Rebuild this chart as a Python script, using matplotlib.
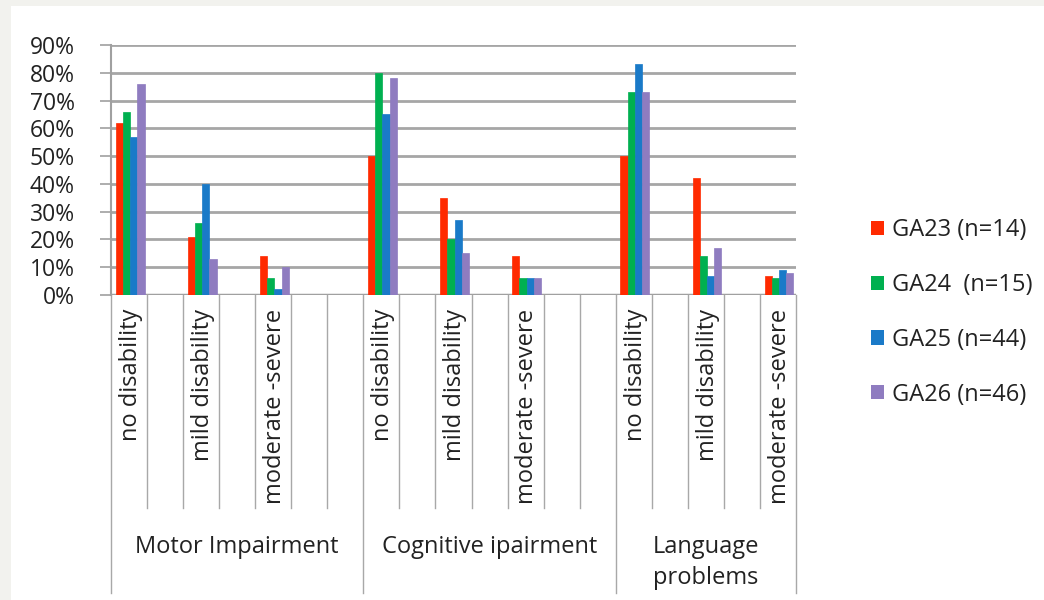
import matplotlib
matplotlib.use("Agg")
import matplotlib.pyplot as plt
from matplotlib.patches import Patch, Rectangle
import numpy as np

# ---- data ----
slot_labels = ["no disability", "", "mild disability", "", "moderate -severe", "", "",
               "no disability", "", "mild disability", "", "moderate -severe", "", "",
               "no disability", "", "mild disability", "", "moderate -severe"]
groups = ["Motor Impairment", "Cognitive ipairment", "Language\nproblems"]
group_sizes = [7, 7, 5]
series_names = ["GA23 (n=14)", "GA24  (n=15)", "GA25 (n=44)", "GA26 (n=46)"]
ga23 = [62, 21, 14, 50, 35, 14, 50, 42, 7]
ga24 = [66, 26, 6, 80, 20, 6, 73, 14, 6]
ga25 = [57, 40, 2, 65, 27, 6, 83, 7, 9]
ga26 = [76, 13, 10, 78, 15, 6, 73, 17, 8]
yticks = [0, 10, 20, 30, 40, 50, 60, 70, 80, 90]

colors = ["#ff2a00", "#00b050", "#1a7ac8", "#8f7cc0"]
FONT = "Open Sans"
FS = 17

W, H = 1044, 600
fig = plt.figure(figsize=(W / 100, H / 100), dpi=100)
fig.patch.set_facecolor("#f2f2ee")
bg = Rectangle((11 / W, 0), 1 - 11 / W, 1 - 6 / H, transform=fig.transFigure,
               facecolor="white", edgecolor="none", zorder=-10)
fig.patches.append(bg)

ax_l, ax_r = 111 / W, 796 / W
ax_b, ax_t = 1 - 295 / H, 1 - 45 / H
ax = fig.add_axes([ax_l, ax_b, ax_r - ax_l, ax_t - ax_b])
ax.set_facecolor("none")
ax.set_zorder(5)

n = len(slot_labels)
used = [i for i, s in enumerate(slot_labels) if s]
x = np.array(used, dtype=float)
bw = 0.2
for k, (vals, c) in enumerate(zip([ga23, ga24, ga25, ga26], colors)):
    ax.bar(x + (k - 1.5) * bw + 0.03, np.array(vals) / 100, width=bw, color=c,
           edgecolor=c, linewidth=0.5, zorder=3)

ax.set_xlim(-0.5, n - 0.5)
ax.set_ylim(0, 0.9)
ax.set_yticks([v / 100 for v in yticks])
ax.set_yticklabels([f"{v}%" for v in yticks], fontfamily=FONT, fontsize=FS - 0.5, color="#222222")
ax.tick_params(axis="y", length=8, width=1.2, color="#a0a0a0", pad=18)
ax.set_xticks([])
ax.grid(axis="y", color="#a6a6a6", linewidth=2, zorder=1)
for side in ["top", "right", "bottom"]:
    ax.spines[side].set_visible(False)
ax.spines["left"].set_color("#a0a0a0")
ax.spines["left"].set_linewidth(1.5)
ax.axhline(0, color="#a0a0a0", linewidth=2.5, zorder=2)

trans = ax.get_xaxis_transform()
axh = (295 - 45)
short_y = -(508 - 295) / axh
long_y = -(593 - 295) / axh
bounds = np.cumsum([0] + group_sizes) - 0.5
for b in np.arange(-0.5, n, 1.0):
    y0 = long_y if np.any(np.isclose(bounds, b)) else short_y
    ax.plot([b, b], [0, y0], transform=trans, color="#a8a8a8", linewidth=1, clip_on=False)

label_top = -(309 - 295) / axh
for i, s in enumerate(slot_labels):
    if s:
        ax.text(i + 0.05, label_top, s, transform=trans, rotation=90, ha="center", va="top",
                fontfamily=FONT, fontsize=FS, color="#222222")

group_y = -(535 - 295) / axh
for g, (lo, hi) in zip(groups, zip(bounds[:-1], bounds[1:])):
    ax.text((lo + hi) / 2, group_y, g, transform=trans, ha="center", va="top",
            fontfamily=FONT, fontsize=FS, color="#222222", linespacing=1.4)

handles = [Patch(facecolor=c, edgecolor="none") for c in colors]
leg = fig.legend(handles, series_names, loc="upper left",
                 bbox_to_anchor=(862 / W, 1 - 209 / H), frameon=False,
                 prop={"family": FONT, "size": FS}, handlelength=0.55, handleheight=0.55,
                 handletextpad=0.3, labelspacing=1.3, borderaxespad=0)
for t in leg.get_texts():
    t.set_color("#222222")

fig.savefig("out.png", dpi=100, facecolor=fig.get_facecolor())
